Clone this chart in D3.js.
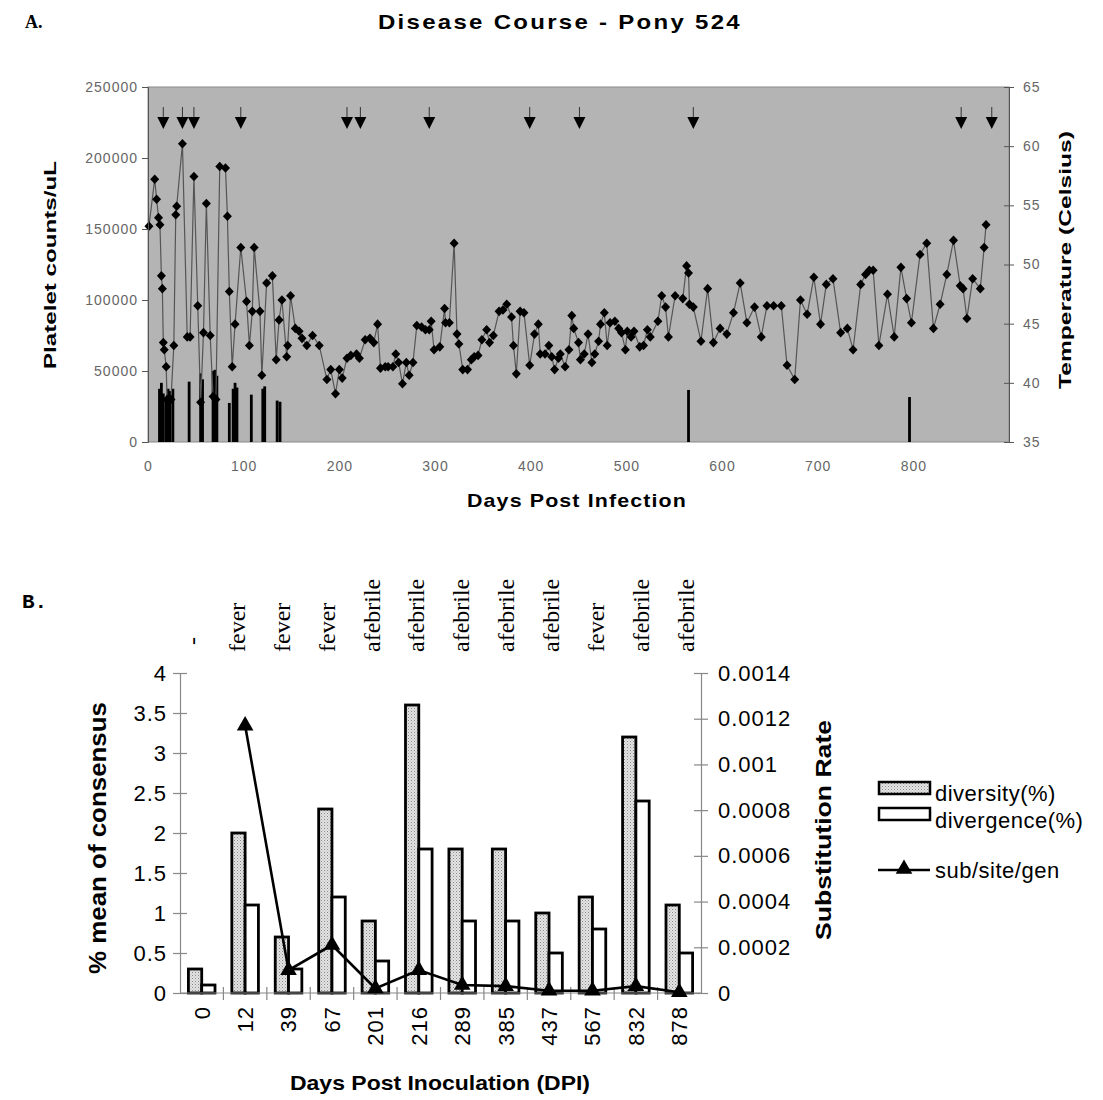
<!DOCTYPE html>
<html lang="en">
<head>
<meta charset="utf-8">
<title>Disease Course - Pony 524</title>
<script src="https://d3js.org/d3.v7.min.js"></script>
<style>
  body { margin: 0; background: #fff; }
  svg { display: block; }
  text { font-family: Arial, "Liberation Sans", sans-serif; }
</style>
</head>
<body>
<script>
// ---------- panel A data ----------
var plateletDays = [1,7,9,11,12.5,14,15,16,17,19,20,24,27,29,30,36,41,44,48,52,55,58,61,65,68,71,75,81,83,85,88,91,97,103,106,109,111,117,119,124,130,134,137,140,145,146,149,154,158,161,166,172,179,187,191,196,200,203,208,212,218,221,227,232,236,240,243,248,251,256,259,262,266,270,273,277,281,286,290,294,296,299,305,310,311,315,320,323,325,329,334,338,341,345,349,354,357,361,367,371,375,380,382,385,389,393,399,404,408,410,415,419,422,425,429,431,436,440,443,445,450,452,456,460,464,467,471,473,477,480,483,488,492,495,499,501,505,508,514,518,522,525,533,537,541,544,551,559,563,565,566,570,578,585,591,598,605,612,619,626,634,641,647,654,662,668,676,682,689,696,703,709,716,724,731,737,745,750,754,758,764,773,780,787,793,798,807,814,821,828,835,842,849,852,856,862,870,874,876];
var plateletCounts = [152000,185000,171000,158000,153000,117000,108000,70000,65000,53000,30000,30000,68000,160000,166000,210000,74000,74000,187000,96000,28000,77000,168000,75000,32000,30000,194000,193000,159000,106000,53000,83000,137000,99000,68000,92000,137000,92000,47000,112000,117000,58000,86000,100000,60000,68000,103000,80000,78000,73000,68000,75000,68000,44000,51000,34000,51000,45000,59000,61000,62000,59000,72000,73000,70000,83000,52000,53000,53000,53000,62000,56000,41000,56000,47000,56000,82000,81000,79000,79000,85000,65000,67000,94000,84000,84000,140000,76000,69000,51000,51000,58000,60000,61000,72000,79000,70000,75000,92000,93000,97000,88000,68000,48000,92000,91000,54000,76000,83000,62000,62000,68000,60000,51000,59000,62000,53000,65000,89000,80000,70000,58000,62000,76000,56000,62000,71000,83000,91000,68000,84000,85000,80000,77000,65000,78000,74000,78000,67000,68000,79000,74000,85000,103000,95000,74000,103000,101000,124000,119000,97000,95000,71000,108000,70000,80000,76000,91000,112000,84000,95000,74000,96000,96000,96000,54000,44000,100000,90000,116000,83000,111000,115000,77000,80000,65000,111000,118000,121000,121000,68000,104000,74000,123000,101000,84000,132000,140000,80000,97000,118000,142000,110000,108000,87000,115000,108000,137000,153000];

var tempDays = [12,14,16,19,21,23,26,43,55,57,68,70,72,85,89,91,93,108,120,122,135,138,565,796];
var tempValues = [39.5,40.0,39.1,38.6,39.5,39.3,39.5,40.1,40.8,40.3,41.0,41.1,40.6,38.3,39.5,40.0,39.6,39.0,39.5,39.7,38.5,38.4,39.4,38.8];

var arrowDays = [16,36,48,97,208,222,294,399,451,570,850,882];

var plateletTicks = [0,50000,100000,150000,200000,250000];
var tempTicks = [35,40,45,50,55,60,65];
var dayTicks = [0,100,200,300,400,500,600,700,800];

// ---------- panel B data ----------
var dpi = ["0","12","39","67","201","216","289","385","437","567","832","878"];
var feverState = ["-","fever","fever","fever","afebrile","afebrile","afebrile","afebrile","afebrile","fever","afebrile","afebrile"];
var diversity = [0.3,2.0,0.7,2.3,0.9,3.6,1.8,1.8,1.0,1.2,3.2,1.1];
var divergence = [0.1,1.1,0.3,1.2,0.4,1.8,0.9,0.9,0.5,0.8,2.4,0.5];
var subRate = [null,0.00117,0.0001,0.00021,0.00002,0.0001,0.000035,0.00003,0.00001,0.00001,0.00003,0.000003];

var pctTicks = [0,0.5,1,1.5,2,2.5,3,3.5,4];
var rateTicks = [0,0.0002,0.0004,0.0006,0.0008,0.001,0.0012,0.0014];

var w = 1103, h = 1100;
var svg = d3.select("body").append("svg").attr("width", w).attr("height", h);

// stipple fill for diversity bars
var pat = svg.append("defs").append("pattern")
  .attr("id", "dots").attr("patternUnits", "userSpaceOnUse")
  .attr("width", 3).attr("height", 3);
pat.append("rect").attr("width", 3).attr("height", 3).attr("fill", "#e4e4e4");
pat.append("rect").attr("x", 0).attr("y", 0).attr("width", 1).attr("height", 1).attr("fill", "#888");
pat.append("rect").attr("x", 1.5).attr("y", 1.5).attr("width", 1).attr("height", 1).attr("fill", "#aaa");

// =============== Panel A ===============
var A = { left: 148, right: 1009, top: 87, bottom: 442 };
var xA = d3.scaleLinear().domain([0, 900]).range([A.left, A.right]);
var yA = d3.scaleLinear().domain([0, 250000]).range([A.bottom, A.top]);
var yT = d3.scaleLinear().domain([35, 65]).range([A.bottom, A.top]);

svg.append("text").attr("x", 25).attr("y", 28)
  .style("font-family", "'Liberation Serif', serif").style("font-weight", "bold")
  .style("font-size", "18px").text("A.");

svg.append("text").attr("x", 378).attr("y", 29)
  .attr("textLength", 364).attr("lengthAdjust", "spacingAndGlyphs")
  .style("font-weight", "bold").style("font-size", "21px").style("letter-spacing", "2px")
  .text("Disease Course - Pony 524");

svg.append("rect").attr("x", A.left).attr("y", A.top)
  .attr("width", A.right - A.left).attr("height", A.bottom - A.top)
  .attr("fill", "#b4b4b4").attr("stroke", "#8a8a8a");

// temperature bars
svg.append("g").selectAll("rect").data(tempDays).join("rect")
  .attr("x", function(d){ return xA(d) - 1.4; })
  .attr("y", function(d, i){ return yT(tempValues[i]); })
  .attr("width", 2.8)
  .attr("height", function(d, i){ return A.bottom - yT(tempValues[i]); })
  .attr("fill", "#000");

// platelet line + diamonds
var plData = plateletDays.map(function(d, i){ return [d, plateletCounts[i]]; });
svg.append("path").datum(plData)
  .attr("d", d3.line().x(function(d){ return xA(d[0]); }).y(function(d){ return yA(d[1]); }))
  .attr("fill", "none").attr("stroke", "#555").attr("stroke-width", 1.2);

svg.append("g").selectAll("path").data(plData).join("path")
  .attr("transform", function(d){ return "translate(" + xA(d[0]) + "," + yA(d[1]) + ")"; })
  .attr("d", "M0,-4.8L4.5,0L0,4.8L-4.5,0Z")
  .attr("fill", "#000");

// sample arrows
var arr = svg.append("g").selectAll("g").data(arrowDays).join("g")
  .attr("transform", function(d){ return "translate(" + xA(d) + ",0)"; });
arr.append("line").attr("x1", 0).attr("x2", 0).attr("y1", 107).attr("y2", 118)
  .attr("stroke", "#333").attr("stroke-width", 1);
arr.append("path").attr("d", "M-6,117L6,117L0,129Z").attr("fill", "#000");

// axes A
var gl = svg.append("g").attr("transform", "translate(" + A.left + ",0)")
  .call(d3.axisLeft(yA).tickValues(plateletTicks).tickSize(6).tickFormat(d3.format("d")));
var gr = svg.append("g").attr("transform", "translate(" + A.right + ",0)")
  .call(d3.axisRight(yT).tickValues(tempTicks).tickSize(5));
gr.selectAll(".tick line").attr("x1", -5);
var gb = svg.append("g").attr("transform", "translate(0," + A.bottom + ")")
  .call(d3.axisBottom(xA).tickValues(dayTicks).tickSize(0).tickPadding(19));
[gl, gr, gb].forEach(function(g){
  g.select(".domain").attr("stroke", "#555");
  g.selectAll(".tick line").attr("stroke", "#555");
  g.selectAll(".tick text").attr("fill", "#666").style("font-size", "14px").style("letter-spacing", "1px");
});
gl.selectAll(".tick text").attr("x", -10);
gr.selectAll(".tick text").attr("x", 14);
gb.select(".domain").remove();

svg.append("text").attr("transform", "translate(56,265) rotate(-90)")
  .attr("text-anchor", "middle").attr("textLength", 208).attr("lengthAdjust", "spacingAndGlyphs")
  .style("font-weight", "bold").style("font-size", "17px").text("Platelet counts/uL");
svg.append("text").attr("transform", "translate(1071,260) rotate(-90)")
  .attr("text-anchor", "middle").attr("textLength", 258).attr("lengthAdjust", "spacingAndGlyphs")
  .style("font-weight", "bold").style("font-size", "17px").text("Temperature (Celsius)");
svg.append("text").attr("x", 577).attr("y", 507).attr("text-anchor", "middle")
  .attr("textLength", 220).attr("lengthAdjust", "spacingAndGlyphs")
  .style("font-weight", "bold").style("font-size", "19px").style("letter-spacing", "1px")
  .text("Days Post Infection");

// =============== Panel B ===============
var B = { left: 180, right: 701, top: 673, bottom: 993 };
var xB = d3.scaleBand().domain(dpi).range([B.left, B.right]);
var yB = d3.scaleLinear().domain([0, 4]).range([B.bottom, B.top]);
var yR = d3.scaleLinear().domain([0, 0.0014]).range([B.bottom, B.top]);
var barW = 13.3;

svg.append("text").attr("x", 22).attr("y", 608)
  .style("font-family", "'Liberation Mono', monospace").style("font-weight", "bold")
  .style("font-size", "21px").text("B.");

// fever / afebrile labels
var xS = d3.scalePoint().domain(d3.range(feverState.length)).range([192, 686]);
svg.append("g").selectAll("text").data(feverState).join("text")
  .attr("transform", function(d, i){ return "translate(" + xS(i) + "," + (d === "-" ? 645 : 652) + ") rotate(-90)"; })
  .attr("dy", "0.33em")
  .style("font-family", "'Liberation Serif', serif").style("font-size", "24px")
  .text(function(d){ return d; });

// bars
svg.append("g").selectAll("rect").data(dpi).join("rect")
  .attr("x", function(d){ return xB(d) + xB.bandwidth() / 2 - barW; })
  .attr("y", function(d, i){ return yB(diversity[i]); })
  .attr("width", barW)
  .attr("height", function(d, i){ return B.bottom - yB(diversity[i]); })
  .attr("fill", "url(#dots)").attr("stroke", "#000").attr("stroke-width", 2.8);
svg.append("g").selectAll("rect").data(dpi).join("rect")
  .attr("x", function(d){ return xB(d) + xB.bandwidth() / 2; })
  .attr("y", function(d, i){ return yB(divergence[i]); })
  .attr("width", barW)
  .attr("height", function(d, i){ return B.bottom - yB(divergence[i]); })
  .attr("fill", "#fff").attr("stroke", "#000").attr("stroke-width", 2.8);

// axes B
var bl = svg.append("g").attr("transform", "translate(" + B.left + ",0)")
  .call(d3.axisLeft(yB).tickValues(pctTicks).tickSize(7).tickFormat(d3.format("")));
bl.selectAll(".tick line").attr("x2", 7).attr("x1", -7);
var br = svg.append("g").attr("transform", "translate(" + B.right + ",0)")
  .call(d3.axisRight(yR).tickValues(rateTicks).tickSize(7).tickFormat(function(d){ return d === 0 ? "0" : d3.format(".4~f")(d); }));
br.selectAll(".tick line").attr("x1", -7);
var bb = svg.append("g").attr("transform", "translate(0," + B.bottom + ")")
  .call(d3.axisBottom(xB).tickSize(0));
[bl, br, bb].forEach(function(g){
  g.select(".domain").attr("stroke", "#888").attr("stroke-width", 1.2);
  g.selectAll(".tick line").attr("stroke", "#888").attr("stroke-width", 1.2);
  g.selectAll(".tick text").attr("fill", "#000").style("font-size", "22px").style("letter-spacing", "1px");
});
bl.selectAll(".tick text").attr("x", -13);
br.selectAll(".tick text").attr("x", 17);
bb.select(".domain").attr("d", "M" + B.left + ",0H" + B.right);
bb.selectAll(".tick text")
  .attr("transform", "rotate(-90)").attr("text-anchor", "end")
  .attr("x", -13).attr("y", 0).attr("dy", "0.36em");
// category separators
svg.append("g").selectAll("line").data(dpi.slice(1)).join("line")
  .attr("x1", function(d){ return xB(d); }).attr("x2", function(d){ return xB(d); })
  .attr("y1", B.bottom - 6).attr("y2", B.bottom + 7)
  .attr("stroke", "#888").attr("stroke-width", 1.2);

// substitution rate line
var rateData = dpi.map(function(d, i){ return [d, subRate[i]]; }).filter(function(d){ return d[1] !== null; });
svg.append("path").datum(rateData)
  .attr("d", d3.line().x(function(d){ return xB(d[0]) + xB.bandwidth() / 2; }).y(function(d){ return yR(d[1]); }))
  .attr("fill", "none").attr("stroke", "#000").attr("stroke-width", 2.6);
var tri = d3.symbol().type(d3.symbolTriangle).size(120);
svg.append("g").selectAll("path").data(rateData).join("path")
  .attr("transform", function(d){ return "translate(" + (xB(d[0]) + xB.bandwidth() / 2) + "," + yR(d[1]) + ")"; })
  .attr("d", tri).attr("fill", "#000");

svg.append("text").attr("transform", "translate(106,838) rotate(-90)")
  .attr("text-anchor", "middle").attr("textLength", 272).attr("lengthAdjust", "spacingAndGlyphs")
  .style("font-weight", "bold").style("font-size", "24px").text("% mean of consensus");
svg.append("text").attr("transform", "translate(831,830) rotate(-90)")
  .attr("text-anchor", "middle").attr("textLength", 220).attr("lengthAdjust", "spacingAndGlyphs")
  .style("font-weight", "bold").style("font-size", "22px").text("Substitution Rate");
svg.append("text").attr("x", 440).attr("y", 1090).attr("text-anchor", "middle")
  .attr("textLength", 300).attr("lengthAdjust", "spacingAndGlyphs")
  .style("font-weight", "bold").style("font-size", "21px").text("Days Post Inoculation (DPI)");

// legend
var lg = svg.append("g");
lg.append("rect").attr("x", 879).attr("y", 782).attr("width", 51).attr("height", 12)
  .attr("fill", "url(#dots)").attr("stroke", "#000").attr("stroke-width", 2.5);
lg.append("rect").attr("x", 879).attr("y", 808).attr("width", 51).attr("height", 12)
  .attr("fill", "#fff").attr("stroke", "#000").attr("stroke-width", 2.5);
lg.append("line").attr("x1", 878).attr("x2", 930).attr("y1", 870).attr("y2", 870)
  .attr("stroke", "#000").attr("stroke-width", 2.6);
lg.append("path").attr("transform", "translate(904,869)").attr("d", tri).attr("fill", "#000");
var legendNames = ["diversity(%)", "divergence(%)", "sub/site/gen"];
var legendY = [801, 828, 878];
lg.selectAll("text").data(legendNames).join("text")
  .attr("x", 935).attr("y", function(d, i){ return legendY[i]; })
  .style("font-size", "22px").style("letter-spacing", "0.5px")
  .text(function(d){ return d; });
</script>
</body>
</html>
